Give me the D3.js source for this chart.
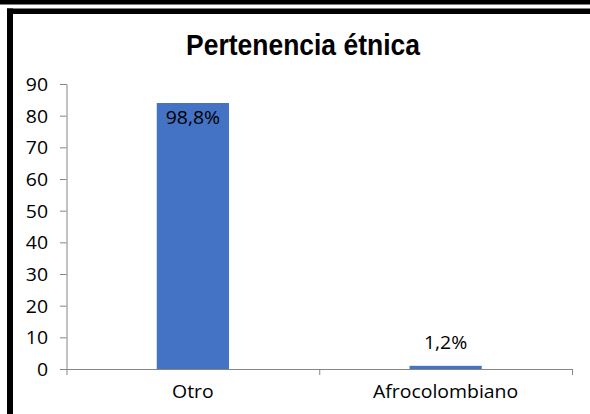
<!DOCTYPE html>
<html>
<head>
<meta charset="utf-8">
<script src="https://cdn.jsdelivr.net/npm/d3@7"></script>
<style>
  body { margin: 0; background: #fff; }
  svg { display: block; }
</style>
</head>
<body>
<svg id="chart" width="590" height="414"></svg>
<script>
// chart data
const categories = ['Otro', 'Afrocolombiano'];
const values = [84, 1];
const labels = ['98,8%', '1,2%'];
const yTicks = [0, 10, 20, 30, 40, 50, 60, 70, 80, 90];
const title = 'Pertenencia étnica';

const W = 590, H = 414;
const margin = { top: 84, right: 18, bottom: 45, left: 66.5 };
const width = W - margin.left - margin.right;
const height = H - margin.top - margin.bottom;
const textScale = 1.08;   // reference text is stretched sideways
const bodyFont = "'Open Sans', sans-serif";

const svg = d3.select('#chart');

// frame: top band + inner border (top and left)
svg.append('rect').attr('x', 0).attr('y', 0).attr('width', W).attr('height', 4.5).attr('fill', '#000');
svg.append('rect').attr('x', 7).attr('y', 8.5).attr('width', W - 7).attr('height', 5.5).attr('fill', '#000');
svg.append('rect').attr('x', 7).attr('y', 8.5).attr('width', 6).attr('height', H - 8.5).attr('fill', '#000');

// title (narrow bold look: taller font squeezed to the reference width)
const titleText = svg.append('text')
  .attr('text-anchor', 'middle')
  .style('font-family', "'Liberation Sans', Arial, sans-serif")
  .style('font-weight', 'bold')
  .style('font-size', '29px')
  .style('fill', '#000')
  .text(title);
const tw = titleText.node().getComputedTextLength();
titleText.attr('transform', 'translate(303,55) scale(' + (234 / tw) + ',1)');

const g = svg.append('g')
  .attr('transform', 'translate(' + margin.left + ',' + margin.top + ')');

const x = d3.scaleBand()
  .domain(categories)
  .range([0, width])
  .padding(0);

const y = d3.scaleLinear()
  .domain([0, 90])
  .range([height, 0]);

const barW = x.bandwidth() / 3.5;   // gap width 250%

// y axis
const yAxis = g.append('g')
  .call(d3.axisLeft(y).tickValues(yTicks).tickSize(6.5).tickPadding(0).tickFormat(d => ''));
yAxis.select('.domain').attr('stroke', '#868686').attr('d', 'M-6.5,0.5H0.5V' + (height + 0.5));
yAxis.selectAll('.tick line').attr('stroke', '#868686');
yAxis.selectAll('.tick')
  .append('text')
  .attr('transform', 'translate(-18.5,0) scale(' + textScale + ',1)')
  .attr('text-anchor', 'end')
  .attr('dy', '0.36em')
  .style('font-family', bodyFont)
  .style('font-size', '18px')
  .style('fill', '#000')
  .text(d => d);

// bars
g.selectAll('.bar')
  .data(categories)
  .enter().append('rect')
  .attr('class', 'bar')
  .attr('x', d => x(d) + x.bandwidth() / 2 - barW / 2)
  .attr('y', (d, i) => y(values[i]))
  .attr('width', barW)
  .attr('height', (d, i) => height - y(values[i]))
  .attr('fill', '#4472C4');

// x axis
const xAxis = g.append('g')
  .attr('transform', 'translate(0,' + height + ')');
xAxis.append('line')
  .attr('x1', 0).attr('x2', width)
  .attr('y1', 0.5).attr('y2', 0.5)
  .attr('stroke', '#868686');
xAxis.selectAll('.xtick')
  .data(categories.concat(['end']))
  .enter().append('line')
  .attr('class', 'xtick')
  .attr('x1', (d, i) => i < categories.length ? x(d) + 0.5 : width + 0.5)
  .attr('x2', (d, i) => i < categories.length ? x(d) + 0.5 : width + 0.5)
  .attr('y1', 0).attr('y2', 6)
  .attr('stroke', '#868686');
xAxis.selectAll('.xlabel')
  .data(categories)
  .enter().append('text')
  .attr('class', 'xlabel')
  .attr('transform', d => 'translate(' + (x(d) + x.bandwidth() / 2) + ',29) scale(' + textScale + ',1)')
  .attr('text-anchor', 'middle')
  .style('font-family', bodyFont)
  .style('font-size', '18px')
  .style('fill', '#000')
  .text(d => d);

// data labels: inside top for big bar, above for small bar
g.selectAll('.label')
  .data(categories)
  .enter().append('text')
  .attr('class', 'label')
  .attr('transform', (d, i) => {
    const ly = values[i] > 20 ? y(values[i]) + 21 : y(values[i]) - 17;
    return 'translate(' + (x(d) + x.bandwidth() / 2) + ',' + ly + ') scale(' + textScale + ',1)';
  })
  .attr('text-anchor', 'middle')
  .style('font-family', bodyFont)
  .style('font-size', '18px')
  .style('fill', '#000')
  .text((d, i) => labels[i]);
</script>
</body>
</html>
